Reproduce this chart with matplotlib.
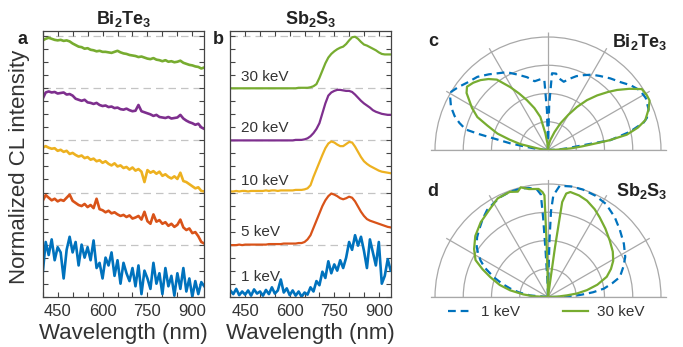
import matplotlib
matplotlib.use('Agg')
import matplotlib.pyplot as plt
import numpy as np

plt.rcParams['font.family'] = ['Liberation Sans', 'DejaVu Sans']
plt.rcParams['mathtext.fontset'] = 'custom'
plt.rcParams['mathtext.rm'] = 'Liberation Sans'
plt.rcParams['mathtext.bf'] = 'Liberation Sans:bold'

TXT = '#333333'

# wavelength grid (nm), 400..940 every 10 nm
wl = [400, 410, 420, 430, 440, 450, 460, 470, 480, 490,
      500, 510, 520, 530, 540, 550, 560, 570, 580, 590,
      600, 610, 620, 630, 640, 650, 660, 670, 680, 690,
      700, 710, 720, 730, 740, 750, 760, 770, 780, 790,
      800, 810, 820, 830, 840, 850, 860, 870, 880, 890,
      900, 910, 920, 930, 940]

keV = ['1 keV', '5 keV', '10 keV', '20 keV', '30 keV']
colors = ['#0072BD', '#D95319', '#EDB120', '#7E2F8E', '#77AC30']

# Bi2Te3 spectra (already offset by 0..4)
bi_1 = [0.45, 1.05, 0.80, 1.10, 0.70, 0.95, 0.85, 0.35, 0.90, 1.15,
        0.85, 1.05, 0.60, 1.00, 0.75, 0.95, 0.70, 1.08, 0.55, 0.65,
        0.35, 0.75, 0.60, 0.85, 0.40, 0.70, 0.25, 0.65, 0.45, 0.30,
        0.55, 0.20, 0.60, 0.05, 0.50, 0.35, 0.15, 0.65, 0.25, 0.45,
        0.05, 0.55, 0.20, 0.40, 0.02, 0.45, 0.15, 0.55, 0.10, 0.35,
        0.00, 0.30, 0.05, 0.28, 0.20]
bi_5 = [1.84, 1.95, 1.90, 1.85, 1.88, 1.83, 1.86, 1.84, 1.90, 1.96,
        1.84, 1.80, 1.76, 1.74, 1.78, 1.72, 1.76, 1.70, 1.88, 1.68,
        1.66, 1.62, 1.65, 1.60, 1.62, 1.58, 1.55, 1.57, 1.53, 1.56,
        1.50, 1.52, 1.55, 1.48, 1.63, 1.45, 1.40, 1.58, 1.44, 1.47,
        1.40, 1.43, 1.36, 1.40, 1.34, 1.38, 1.48, 1.33, 1.28, 1.31,
        1.22, 1.24, 1.16, 1.05, 1.02]
bi_10 = [2.86, 2.89, 2.86, 2.84, 2.85, 2.80, 2.82, 2.78, 2.80, 2.74,
         2.76, 2.72, 2.69, 2.71, 2.66, 2.68, 2.63, 2.65, 2.60, 2.62,
         2.57, 2.60, 2.55, 2.52, 2.56, 2.50, 2.52, 2.47, 2.49, 2.44,
         2.48, 2.42, 2.45, 2.40, 2.20, 2.43, 2.38, 2.41, 2.36, 2.40,
         2.32, 2.35, 2.30, 2.27, 2.31, 2.26, 2.38, 2.22, 2.20, 2.16,
         2.12, 2.08, 2.10, 2.03, 2.02]
bi_20 = [3.80, 3.92, 3.94, 3.92, 3.93, 3.90, 3.91, 3.92, 3.88, 3.89,
         3.86, 3.80, 3.78, 3.76, 3.78, 3.73, 3.72, 3.70, 3.72, 3.68,
         3.66, 3.67, 3.64, 3.65, 3.62, 3.63, 3.60, 3.59, 3.61, 3.58,
         3.56, 3.57, 3.68, 3.56, 3.54, 3.52, 3.50, 3.47, 3.49, 3.45,
         3.44, 3.43, 3.45, 3.42, 3.43, 3.44, 3.49, 3.42, 3.38, 3.35,
         3.33, 3.30, 3.32, 3.25, 3.22]
bi_30 = [4.92, 4.95, 4.97, 4.95, 4.93, 4.92, 4.93, 4.91, 4.92, 4.90,
         4.86, 4.83, 4.80, 4.79, 4.76, 4.77, 4.74, 4.73, 4.71, 4.72,
         4.70, 4.70, 4.69, 4.68, 4.70, 4.72, 4.69, 4.67, 4.66, 4.64,
         4.63, 4.62, 4.60, 4.61, 4.59, 4.57, 4.56, 4.58, 4.55, 4.54,
         4.52, 4.54, 4.51, 4.52, 4.50, 4.51, 4.53, 4.49, 4.47, 4.45,
         4.44, 4.42, 4.41, 4.38, 4.40]

# Sb2S3 spectra (already offset by 0..4)
sb_1 = [0.12, 0.05, 0.15, 0.03, 0.10, 0.04, 0.12, 0.02, 0.14, 0.06,
        0.10, 0.02, 0.13, 0.05, 0.18, 0.06, 0.12, 0.33, 0.08, 0.16,
        0.03, 0.12, 0.02, 0.10, 0.00, 0.08, 0.04, 0.18, 0.10, 0.30,
        0.22, 0.48, 0.36, 0.68, 0.45, 0.62, 0.50, 0.70, 0.55, 0.75,
        1.05, 0.90, 1.18, 0.98, 1.15, 0.88, 0.55, 1.10, 0.85, 0.60,
        1.05, 0.25, 0.40, 0.72, 0.50]
sb_5 = [0.99, 0.99, 0.99, 1.00, 0.99, 1.00, 1.00, 1.00, 1.00, 1.00,
        1.00, 1.00, 1.00, 1.01, 1.01, 1.01, 1.01, 1.01, 1.02, 1.02,
        1.02, 1.02, 1.02, 1.03, 1.03, 1.05, 1.10, 1.18, 1.32, 1.46,
        1.60, 1.74, 1.85, 1.93, 1.98, 1.96, 1.93, 1.89, 1.87, 1.89,
        1.92, 1.90, 1.83, 1.73, 1.63, 1.55, 1.49, 1.46, 1.44, 1.42,
        1.40, 1.38, 1.36, 1.34, 1.33]
sb_10 = [2.02, 2.02, 2.03, 2.02, 2.03, 2.03, 2.02, 2.03, 2.03, 2.03,
         2.03, 2.03, 2.04, 2.03, 2.04, 2.04, 2.03, 2.04, 2.04, 2.04,
         2.04, 2.04, 2.05, 2.05, 2.05, 2.06, 2.08, 2.14, 2.30, 2.44,
         2.58, 2.72, 2.85, 2.94, 2.98, 2.96, 2.92, 2.89, 2.89, 2.93,
         2.97, 2.96, 2.88, 2.78, 2.68, 2.60, 2.55, 2.51, 2.48, 2.45,
         2.42, 2.40, 2.39, 2.38, 2.37]
sb_20 = [3.00, 3.00, 3.00, 3.00, 3.00, 3.00, 3.00, 3.00, 3.00, 3.00,
         3.00, 3.00, 3.00, 3.00, 3.00, 3.00, 3.00, 3.00, 3.00, 3.00,
         3.00, 3.00, 3.01, 3.01, 3.01, 3.02, 3.04, 3.08, 3.14, 3.22,
         3.33, 3.52, 3.71, 3.86, 3.92, 3.95, 3.97, 3.97, 3.96, 3.95,
         3.95, 3.93, 3.88, 3.82, 3.76, 3.71, 3.67, 3.63, 3.58, 3.55,
         3.53, 3.51, 3.50, 3.49, 3.49]
sb_30 = [4.00, 4.00, 4.00, 4.00, 4.00, 4.00, 4.00, 4.00, 4.00, 4.00,
         4.00, 4.00, 4.00, 4.00, 4.00, 4.00, 4.00, 4.00, 4.00, 4.00,
         4.00, 4.00, 4.00, 4.01, 4.01, 4.01, 4.01, 4.02, 4.04, 4.08,
         4.20, 4.34, 4.48, 4.59, 4.66, 4.71, 4.75, 4.78, 4.80, 4.85,
         4.92, 4.98, 4.99, 4.95, 4.89, 4.84, 4.82, 4.79, 4.76, 4.73,
         4.69, 4.66, 4.65, 4.65, 4.65]

label_y = [0.37, 1.24, 2.23, 3.24, 4.22]

# angular emission patterns (theta in degrees from normal, r normalized)
c_1_th = [-90, -86, -84, -82, -80, -78, -77, -76, -73, -70,
          -66, -62, -59, -55, -50, -44, -38, -33, -28, -22,
          -16, -11, -6, -3, -1.5, 0, 1.5, 3, 6, 9,
          13, 17, 21, 25, 30, 35, 41, 47, 52, 57,
          62, 68, 72, 74, 77.5, 81, 82, 83, 85, 88, 90]
c_1_r = [0, 0.07, 0.11, 0.18, 0.34, 0.49, 0.63, 0.75, 0.82, 0.88,
         0.94, 0.98, 1.00, 0.97, 0.93, 0.90, 0.85, 0.81, 0.78, 0.72,
         0.67, 0.62, 0.63, 0.62, 0.35, 0.02, 0.40, 0.68, 0.68, 0.64,
         0.62, 0.66, 0.70, 0.73, 0.77, 0.80, 0.84, 0.88, 0.93, 0.97,
         0.98, 0.96, 0.92, 0.88, 0.74, 0.56, 0.34, 0.25, 0.17, 0.08, 0]
c_30_th = [-90, -86, -81, -78, -75, -72, -68, -65, -61, -58,
           -55, -52, -48, -44, -40, -36, -31, -27, -23, -18,
           -13, -9, -5, 0, 5, 9, 13, 20, 25, 30,
           34, 38, 42, 46, 49, 53, 57, 61, 64, 68,
           73, 76, 79, 81, 82, 84, 86, 88, 90]
c_30_r = [0, 0.04, 0.10, 0.25, 0.35, 0.47, 0.58, 0.69, 0.77, 0.82,
          0.88, 0.91, 0.89, 0.86, 0.82, 0.77, 0.65, 0.56, 0.48, 0.39,
          0.30, 0.15, 0.06, 0, 0.03, 0.05, 0.09, 0.17, 0.26, 0.36,
          0.46, 0.56, 0.65, 0.74, 0.81, 0.90, 0.99, 1.00, 1.00, 0.96,
          0.90, 0.82, 0.71, 0.55, 0.44, 0.30, 0.20, 0.08, 0]
d_1_th = [-90, -85, -81, -77.5, -74, -70, -65, -61.5, -58, -55,
          -50, -46, -40, -35, -30, -25.5, -20, -14, -10, -6,
          -4, -3.5, -3, -2, 0, 1, 1.5, 2, 3, 6,
          12, 18, 25, 32, 40, 47, 55, 62.6, 68, 74.5,
          78, 81.5, 84, 86, 88, 89.5, 90]
d_1_r = [0, 0.16, 0.26, 0.34, 0.42, 0.51, 0.62, 0.68, 0.73, 0.77,
         0.82, 0.85, 0.90, 0.94, 0.96, 0.98, 0.99, 0.99, 0.98, 0.96,
         0.91, 0.70, 0.40, 0.15, 0, 0.15, 0.50, 0.76, 0.90, 0.99,
         1.00, 1.00, 0.99, 0.97, 0.92, 0.87, 0.82, 0.77, 0.72, 0.66,
         0.58, 0.50, 0.40, 0.30, 0.22, 0.10, 0]
d_30_th = [-90, -87, -84, -80, -76, -71, -67, -63, -57, -50,
           -42, -34, -27, -20, -16, -14, -10, -5, -3, -2,
           -1.5, -1, 0, 7, 7.5, 8, 8.5, 10, 12, 17,
           22, 28, 33, 40, 47.7, 55, 61, 66, 71, 76,
           80, 83, 85, 88, 90]
d_30_r = [0, 0.13, 0.22, 0.34, 0.44, 0.54, 0.63, 0.72, 0.78, 0.84,
          0.89, 0.93, 0.98, 0.99, 0.97, 1.00, 0.97, 0.96, 0.93, 0.90,
          0.50, 0.20, 0, 0, 0.03, 0.45, 0.85, 0.93, 0.95, 0.94,
          0.92, 0.88, 0.84, 0.79, 0.74, 0.70, 0.66, 0.61, 0.55, 0.45,
          0.35, 0.26, 0.17, 0.08, 0]


fig = plt.figure(figsize=(6.83, 3.47), dpi=100)

ax_a = fig.add_axes([42.7/683, 1-296.7/347, 161.6/683, 265.7/347])
ax_b = fig.add_axes([230.3/683, 1-296.7/347, 160.7/683, 265.7/347])


def style_spec(ax, xlim):
    ax.set_xlim(*xlim)
    ax.set_ylim(0, 5.1)
    ax.set_xticks([450, 600, 750, 900])
    ax.set_xticks(np.arange(400, 950, 50), minor=True)
    ax.set_yticks(np.arange(0, 5.01, 0.25))
    ax.set_yticklabels([])
    ax.tick_params(which='both', direction='in', top=True, right=True,
                   length=3.5, width=0.8, color='#444444',
                   labelsize=12, labelcolor=TXT, pad=5)
    for s in ax.spines.values():
        s.set_color('#444444')
        s.set_linewidth(0.9)
    for y in [1, 2, 3, 4, 5]:
        ax.axhline(y, color='#c4c4c4', lw=0.9, ls=(0, (6, 4)), zorder=0)
    ax.set_xlabel('Wavelength (nm)', fontsize=16, color=TXT, labelpad=3)


style_spec(ax_a, (400, 940))
style_spec(ax_b, (405, 941))

for ys, c in zip([bi_1, bi_5, bi_10, bi_20, bi_30], colors):
    ax_a.plot(wl, ys, color=c, lw=1.9)
for ys, c in zip([sb_1, sb_5, sb_10, sb_20, sb_30], colors):
    lw = 1.9 if c == colors[0] else 1.6
    ax_b.plot(wl, ys, color=c, lw=lw)
for lab, y in zip(keV, label_y):
    ax_b.text(437, y, lab, fontsize=11, color=TXT, ha='left', va='center')

ax_a.set_title(r'Bi$_\mathbf{2}$Te$_\mathbf{3}$', fontsize=13,
               fontweight='bold', color='#222222', pad=5)
ax_b.set_title(r'Sb$_\mathbf{2}$S$_\mathbf{3}$', fontsize=13,
               fontweight='bold', color='#222222', pad=5)

fig.text(20/683, 1-167/347, 'Normalized CL intensity', rotation=90,
         fontsize=16, color=TXT, ha='center', va='center')
fig.text(22/683, 1-39/347, 'a', fontsize=13, fontweight='bold',
         color='#222222', ha='center', va='center')
fig.text(218/683, 1-39/347, 'b', fontsize=13, fontweight='bold',
         color='#222222', ha='center', va='center')

# polar panels: the half disc sits in the middle half of a square box
ax_c = fig.add_axes([430.5/683, 1-208.75/347, 235/683, 235/347], projection='polar')
ax_d = fig.add_axes([430.5/683, 1-355.75/347, 235/683, 235/347], projection='polar')

for ax in [ax_c, ax_d]:
    ax.set_theta_zero_location('N')
    ax.set_theta_direction(-1)
    ax.set_thetamin(-90)
    ax.set_thetamax(90)
    ax.set_ylim(0, 1.04)
    ax.set_rgrids([0.25, 0.5, 0.75, 1.0], labels=[])
    ax.set_thetagrids(np.arange(-90, 91, 30), labels=[])
    ax.grid(color='#a8a8a8', lw=0.9)
    ax.spines['polar'].set_visible(False)
    ax.spines['inner'].set_visible(False)
    ax.spines['start'].set_color('#a8a8a8')
    ax.spines['end'].set_color('#a8a8a8')
    ax.spines['start'].set_linewidth(0.9)
    ax.spines['end'].set_linewidth(0.9)
    ax.patch.set_alpha(0)

l1, = ax_c.plot(np.deg2rad(c_1_th), c_1_r, color=colors[0], lw=1.6, dashes=(3.5, 2.2))
l30, = ax_c.plot(np.deg2rad(c_30_th), c_30_r, color=colors[4], lw=1.6)
ax_d.plot(np.deg2rad(d_1_th), d_1_r, color=colors[0], lw=1.6, dashes=(3.5, 2.2))
ax_d.plot(np.deg2rad(d_30_th), d_30_r, color=colors[4], lw=1.6)

fig.text(433/683, 1-42/347, 'c', fontsize=13, fontweight='bold',
         color='#222222', ha='center', va='center')
fig.text(433/683, 1-191/347, 'd', fontsize=13, fontweight='bold',
         color='#222222', ha='center', va='center')
fig.text(667/683, 1-42/347, r'Bi$_\mathbf{2}$Te$_\mathbf{3}$', fontsize=13,
         fontweight='bold', color='#222222', ha='right', va='center')
fig.text(667/683, 1-191/347, r'Sb$_\mathbf{2}$S$_\mathbf{3}$', fontsize=13,
         fontweight='bold', color='#222222', ha='right', va='center')

fig.legend([l1, l30], ['1 keV', '30 keV'], loc='center',
           bbox_to_anchor=(546/683, 1-312/347), ncol=2, frameon=False,
           fontsize=11, labelcolor=TXT, handlelength=1.6,
           handletextpad=0.6, columnspacing=2.8)

fig.savefig('out.png', dpi=100)
